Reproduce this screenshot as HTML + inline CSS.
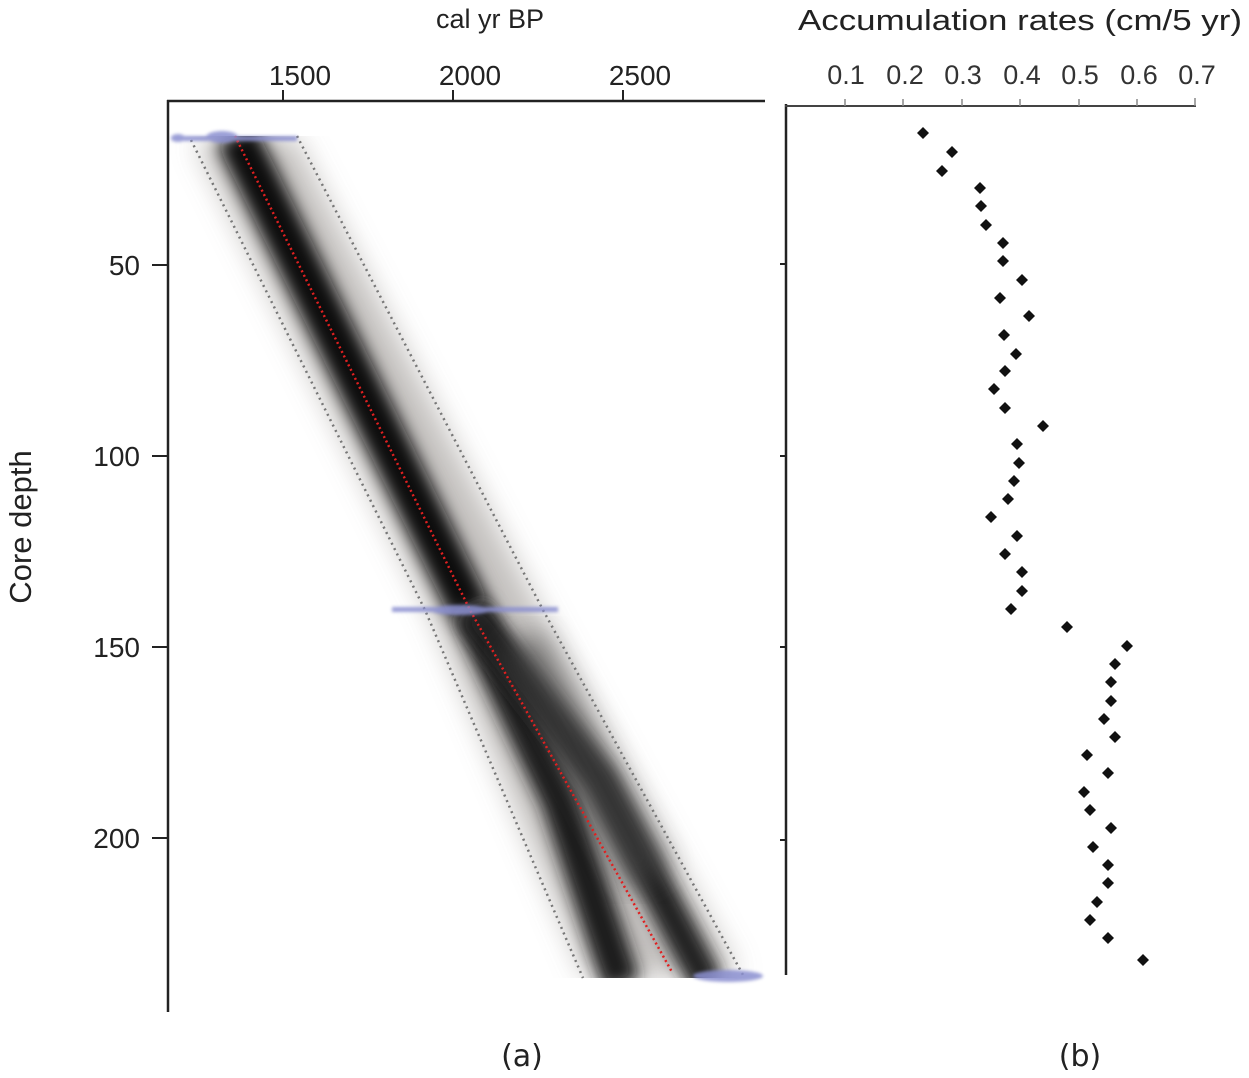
<!DOCTYPE html>
<html><head><meta charset="utf-8"><style>
html,body{margin:0;padding:0;background:#fff;}
svg{display:block;font-family:"Liberation Sans",sans-serif;}
</style></head><body>
<svg width="1249" height="1078" viewBox="0 0 1249 1078" xmlns="http://www.w3.org/2000/svg">
<defs>
<filter id="b1" x="-50%" y="-10%" width="200%" height="120%"><feGaussianBlur stdDeviation="14"/></filter>
<filter id="b2" x="-50%" y="-10%" width="200%" height="120%"><feGaussianBlur stdDeviation="8"/></filter>
<filter id="b3" x="-50%" y="-50%" width="200%" height="200%"><feGaussianBlur stdDeviation="1.5"/></filter>
<clipPath id="cp"><rect x="169" y="136" width="600" height="842"/></clipPath>
<path id="dm" d="M0,-6 L6,0 L0,6 L-6,0Z"/>
</defs>
<g clip-path="url(#cp)">
<polygon points="195,140 293,136 540,610 738,975 588,978 430,610" fill="#b9b6b3" filter="url(#b1)" opacity="0.85"/>
<path d="M236,135 L470,610" stroke="#111" stroke-width="42" fill="none" filter="url(#b2)"/>
<path d="M470,610 L560,800 L622,985" stroke="#1a1a1a" stroke-width="38" fill="none" filter="url(#b2)"/>
<path d="M470,610 L600,780 L708,985" stroke="#222" stroke-width="34" fill="none" filter="url(#b2)"/>
<path d="M520,640 L650,880" stroke="#444" stroke-width="44" fill="none" filter="url(#b1)" opacity="0.6"/>
</g>
<polyline points="191,140 425,610 583,978" fill="none" stroke="#777" stroke-width="2.5" stroke-dasharray="2 4"/>
<polyline points="297,136 543,610 743,975" fill="none" stroke="#777" stroke-width="2.5" stroke-dasharray="2 4"/>
<polyline points="235,136 470,610 672,972" fill="none" stroke="#e02020" stroke-width="2.5" stroke-dasharray="2 3"/>
<g fill="#8a8fd0" opacity="0.85" filter="url(#b3)">
<rect x="172" y="136" width="125" height="5"/>
<ellipse cx="178" cy="138" rx="7" ry="4"/>
<ellipse cx="222" cy="137" rx="16" ry="6"/>
<rect x="392" y="607" width="166" height="5"/>
<ellipse cx="460" cy="610" rx="30" ry="5"/>
<ellipse cx="728" cy="976" rx="35" ry="6"/>
</g>
<line x1="168" y1="100" x2="168" y2="1012" stroke="#222" stroke-width="2.5"/>
<line x1="167" y1="101" x2="765" y2="101" stroke="#222" stroke-width="2.5"/>
<g stroke="#222" stroke-width="2">
<line x1="283" y1="101" x2="283" y2="90"/><line x1="453" y1="101" x2="453" y2="90"/><line x1="623" y1="101" x2="623" y2="90"/>
<line x1="152" y1="265" x2="168" y2="265"/><line x1="152" y1="456" x2="168" y2="456"/><line x1="152" y1="647" x2="168" y2="647"/><line x1="152" y1="838" x2="168" y2="838"/>
</g>
<g font-size="28" fill="#222">
<text x="300" y="85" text-anchor="middle">1500</text>
<text x="470" y="85" text-anchor="middle">2000</text>
<text x="640" y="85" text-anchor="middle">2500</text>
<text x="140" y="275" text-anchor="end">50</text>
<text x="140" y="466" text-anchor="end">100</text>
<text x="140" y="657" text-anchor="end">150</text>
<text x="140" y="848" text-anchor="end">200</text>
<text x="490" y="28" text-anchor="middle" font-size="27">cal yr BP</text>
<text transform="translate(31,527) rotate(-90)" text-anchor="middle" font-size="31">Core depth</text>
<text x="522" y="1066" text-anchor="middle" font-family="DejaVu Sans, sans-serif" font-size="30">(a)</text>
<text x="1080" y="1066" text-anchor="middle" font-family="DejaVu Sans, sans-serif" font-size="30">(b)</text>
</g>
<line x1="786" y1="104" x2="786" y2="975" stroke="#222" stroke-width="2.5"/>
<line x1="785" y1="106" x2="1196" y2="106" stroke="#444" stroke-width="2"/>
<g stroke="#888" stroke-width="1.5">
<line x1="845" y1="106" x2="845" y2="99"/><line x1="903" y1="106" x2="903" y2="99"/><line x1="962" y1="106" x2="962" y2="99"/><line x1="1020" y1="106" x2="1020" y2="99"/><line x1="1079" y1="106" x2="1079" y2="99"/><line x1="1137" y1="106" x2="1137" y2="99"/><line x1="1195" y1="106" x2="1195" y2="98"/>
</g>
<g stroke="#222" stroke-width="2">
<line x1="780" y1="264" x2="786" y2="264"/><line x1="780" y1="456" x2="786" y2="456"/><line x1="780" y1="647" x2="786" y2="647"/><line x1="780" y1="840" x2="786" y2="840"/>
</g>
<g font-size="27" fill="#333" text-anchor="middle">
<text x="846" y="84">0.1</text><text x="905" y="84">0.2</text><text x="963" y="84">0.3</text><text x="1022" y="84">0.4</text><text x="1080" y="84">0.5</text><text x="1139" y="84">0.6</text><text x="1197" y="84">0.7</text>
</g>
<text x="798" y="30" font-size="29" fill="#222" textLength="444" lengthAdjust="spacingAndGlyphs">Accumulation rates (cm/5 yr)</text>
<g fill="#111">
<use href="#dm" x="923" y="133"/><use href="#dm" x="952" y="152"/><use href="#dm" x="942" y="171"/>
<use href="#dm" x="980" y="188"/><use href="#dm" x="981" y="206"/><use href="#dm" x="986" y="225"/>
<use href="#dm" x="1003" y="243"/><use href="#dm" x="1003" y="261"/><use href="#dm" x="1022" y="280"/>
<use href="#dm" x="1000" y="298"/><use href="#dm" x="1029" y="316"/><use href="#dm" x="1004" y="335"/>
<use href="#dm" x="1016" y="354"/><use href="#dm" x="1005" y="371"/><use href="#dm" x="994" y="389"/>
<use href="#dm" x="1005" y="408"/><use href="#dm" x="1043" y="426"/><use href="#dm" x="1017" y="444"/>
<use href="#dm" x="1019" y="463"/><use href="#dm" x="1014" y="481"/><use href="#dm" x="1008" y="499"/>
<use href="#dm" x="991" y="517"/><use href="#dm" x="1017" y="536"/><use href="#dm" x="1005" y="554"/>
<use href="#dm" x="1022" y="572"/><use href="#dm" x="1022" y="591"/><use href="#dm" x="1011" y="609"/>
<use href="#dm" x="1067" y="627"/><use href="#dm" x="1127" y="646"/><use href="#dm" x="1115" y="664"/>
<use href="#dm" x="1111" y="682"/><use href="#dm" x="1111" y="701"/><use href="#dm" x="1104" y="719"/>
<use href="#dm" x="1115" y="737"/><use href="#dm" x="1087" y="755"/><use href="#dm" x="1108" y="773"/>
<use href="#dm" x="1084" y="792"/><use href="#dm" x="1090" y="810"/><use href="#dm" x="1111" y="828"/>
<use href="#dm" x="1093" y="847"/><use href="#dm" x="1108" y="865"/><use href="#dm" x="1108" y="883"/>
<use href="#dm" x="1097" y="902"/><use href="#dm" x="1090" y="920"/><use href="#dm" x="1108" y="938"/>
<use href="#dm" x="1143" y="960"/>
</g>
</svg>
</body></html>
